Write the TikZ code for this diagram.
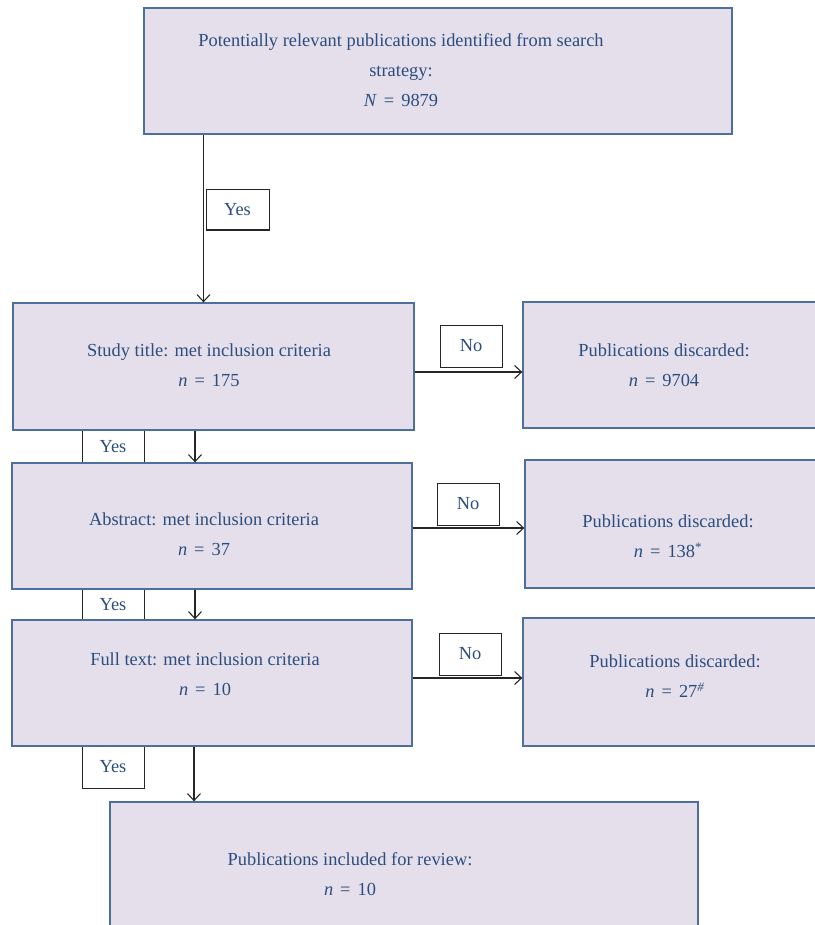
\documentclass[tikz,border=0pt]{standalone}
\usepackage{fontspec}
\setmainfont{Liberation Serif}
\usetikzlibrary{arrows.meta}
\definecolor{boxfill}{HTML}{E4DFEB}
\definecolor{boxline}{HTML}{4C6F9C}
\definecolor{txtblue}{HTML}{2C4D7E}
\newcommand{\eqs}{\hspace{0.38em}=\hspace{0.38em}}
\begin{document}
\begin{tikzpicture}[x=1pt,y=-1pt,
    box/.style={draw=boxline, line width=1.3pt, fill=boxfill, inner sep=0pt},
    txt/.style={text=txtblue, align=center, font=\fontsize{18.4}{30}\selectfont},
    lbl/.style={draw=black!85, line width=1pt, fill=white, inner sep=0pt,
        text=txtblue, font=\fontsize{18.4}{20}\selectfont},
    arr/.style={-{Straight Barb[length=7pt,width=13pt]}, line width=1.1pt, black!85}]
    \useasboundingbox (0,0) rectangle (814,925);

    % yes / no labels (drawn first, boxes overlap them)
    \node[lbl, minimum width=63, minimum height=40] (yes1) at (237.5,210) {Yes};
    \node[lbl, minimum width=62, minimum height=33] (yes2) at (113,446.5) {Yes};
    \node[lbl, minimum width=62, minimum height=31] (yes3) at (113,604.5) {Yes};
    \node[lbl, minimum width=62, minimum height=42] (yes4) at (113,767) {Yes};
    \node[lbl, minimum width=62, minimum height=42] (no1) at (471,346) {No};
    \node[lbl, minimum width=62, minimum height=42] (no2) at (468,504) {No};
    \node[lbl, minimum width=62, minimum height=42] (no3) at (470,654) {No};

    % main boxes
    \node[box, minimum width=588, minimum height=126] (search) at (438,71) {};
    \node[box, minimum width=401, minimum height=127] (title) at (213.5,366.5) {};
    \node[box, minimum width=400, minimum height=126] (abstract) at (212,526) {};
    \node[box, minimum width=400, minimum height=126] (fulltext) at (212,683) {};
    \node[box, minimum width=307, minimum height=126] (disc1) at (676.5,365) {};
    \node[box, minimum width=305, minimum height=128] (disc2) at (677.5,524) {};
    \node[box, minimum width=307, minimum height=128] (disc3) at (676.5,682) {};
    \node[box, minimum width=588, minimum height=138] (review) at (404,871) {};

    % texts
    \node[txt] (searchtxt) at (401,70) {Potentially relevant publications identified from search\\ strategy:\\ \textit{N}\eqs 9879};
    \node[txt] (titletxt) at (209,365.5) {Study title: met inclusion criteria\\ \textit{n}\eqs 175};
    \node[txt] (abstracttxt) at (204,534.5) {Abstract: met inclusion criteria\\ \textit{n}\eqs 37};
    \node[txt] (fulltexttxt) at (205,674.5) {Full text: met inclusion criteria\\ \textit{n}\eqs 10};
    \node[txt] (disc1txt) at (664,365) {Publications discarded:\\ \textit{n}\eqs 9704};
    \node[txt] (disc2txt) at (668,536.5) {Publications discarded:\\ \textit{n}\eqs 138\textsuperscript{*}};
    \node[txt] (disc3txt) at (675,676.5) {Publications discarded:\\ \textit{n}\eqs 27\textsuperscript{\textit{\#}}};
    \node[txt] (reviewtxt) at (350,874.5) {Publications included for review:\\ \textit{n}\eqs 10};

    % downward arrows
    \draw[arr] ([xshift=-2pt]search.south -| yes1.west) -- ([xshift=-2pt]title.north -| yes1.west);
    \draw[arr] ([xshift=-18.5pt]title.south) coordinate (a2) -- (a2 |- abstract.north);
    \draw[arr] ([xshift=-17pt]abstract.south) coordinate (a3) -- (a3 |- fulltext.north);
    \draw[arr] ([xshift=-18pt]fulltext.south) coordinate (a4) -- (a4 |- review.north);

    % discard arrows
    \draw[arr] ([yshift=-5.5pt]title.east) coordinate (b1) -- (b1 -| disc1.west);
    \draw[arr] ([yshift=-2pt]abstract.east) coordinate (b2) -- (b2 -| disc2.west);
    \draw[arr] ([yshift=5pt]fulltext.east) coordinate (b3) -- (b3 -| disc3.west);
\end{tikzpicture}
\end{document}
